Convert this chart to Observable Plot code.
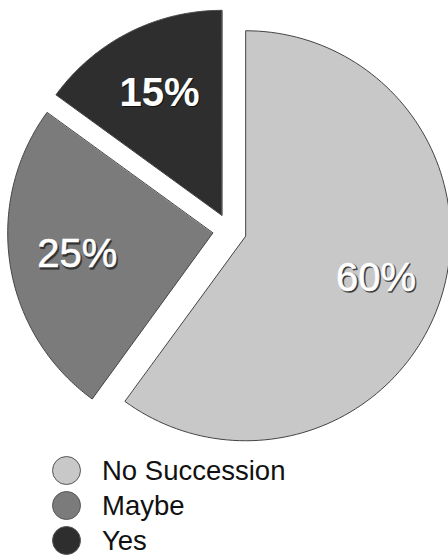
<!DOCTYPE html>
<html>
<head>
<meta charset="utf-8">
<script src="https://cdn.jsdelivr.net/npm/d3@7"></script>
<script src="https://cdn.jsdelivr.net/npm/@observablehq/plot@0.6"></script>
<style>
  html, body { margin: 0; padding: 0; background: #fff; }
  body { width: 448px; height: 557px; overflow: hidden; font-family: "Liberation Sans", Arial, sans-serif; }
  #legend { padding-top: 1px; padding-left: 52px; }
  .row { display: flex; align-items: center; height: 35px; }
  .sw { width: 27px; height: 27px; border-radius: 50%; border: 1.5px solid #555; box-sizing: content-box; }
  .lab { margin-left: 21px; font-size: 27.5px; color: #111; line-height: 24px; }
</style>
</head>
<body>
<div id="chart"></div>
<div id="legend"></div>
<script>
const categories = ["No Succession", "Maybe", "Yes"];
const values = [60, 25, 15];
const labels = ["60%", "25%", "15%"];
const colors = ["#c8c8c8", "#7b7b7b", "#2e2e2e"];

const W = 448, H = 452;
const cx = 229, cy = 230, R = 205, explode = 17, labelR = 137;

const arcs = d3.pie().sort(null).value(d => d)(values);
const features = arcs.map((a, i) => {
  const m = (a.startAngle + a.endAngle) / 2;
  const ox = cx + explode * Math.sin(m), oy = cy - explode * Math.cos(m);
  const ring = [[ox, oy]];
  const n = 120;
  for (let k = 0; k <= n; k++) {
    const t = a.startAngle + (a.endAngle - a.startAngle) * k / n;
    ring.push([ox + R * Math.sin(t), oy - R * Math.cos(t)]);
  }
  ring.push([ox, oy]);
  return {type: "Feature", properties: {cat: categories[i]}, geometry: {type: "Polygon", coordinates: [ring]}};
});
const labelData = arcs.map((a, i) => {
  const m = (a.startAngle + a.endAngle) / 2;
  const ox = cx + explode * Math.sin(m), oy = cy - explode * Math.cos(m);
  return {x: ox + labelR * Math.sin(m), y: oy - labelR * Math.cos(m), text: labels[i], dark: i === 2};
});

const font = "Liberation Sans, Arial, sans-serif";
const common = {x: "x", y: "y", text: "text", fontSize: 40, fontFamily: font, textAnchor: "middle", lineAnchor: "middle"};

const chart = Plot.plot({
  width: W, height: H,
  margin: 0,
  x: {type: "identity"},
  y: {type: "identity"},
  projection: d3.geoIdentity(),
  color: {domain: categories, range: colors},
  marks: [
    Plot.geo(features, {fill: d => d.properties.cat, stroke: "#444", strokeWidth: 1}),
    // shadows
    Plot.text(labelData, {...common, filter: d => !d.dark, dx: 1.2, dy: 1.5, fill: "#333", stroke: "#333", strokeWidth: 1.5, strokeOpacity: 0.8}),
    Plot.text(labelData, {...common, filter: d => d.dark, dx: 1, dy: 1.2, fill: "#111", fontWeight: "bold"}),
    // white text
    Plot.text(labelData, {...common, filter: d => !d.dark, fill: "#ffffff", stroke: "#ffffff", strokeWidth: 0.6}),
    Plot.text(labelData, {...common, filter: d => d.dark, fill: "#ffffff", fontWeight: "bold"})
  ]
});
document.getElementById("chart").appendChild(chart);

const legend = document.getElementById("legend");
categories.forEach((c, i) => {
  const row = document.createElement("div");
  row.className = "row";
  const sw = document.createElement("span");
  sw.className = "sw";
  sw.style.background = colors[i];
  const lab = document.createElement("span");
  lab.className = "lab";
  lab.textContent = c;
  row.appendChild(sw);
  row.appendChild(lab);
  legend.appendChild(row);
});
</script>
</body>
</html>
